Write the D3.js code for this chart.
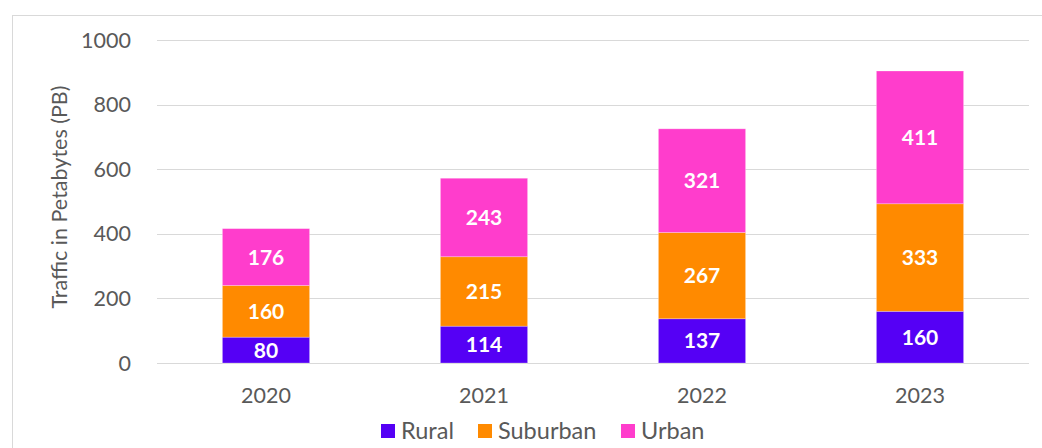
<!DOCTYPE html>
<html>
<head>
<meta charset="utf-8">
<script src="https://cdn.jsdelivr.net/npm/d3@7"></script>
<style>
  body { margin: 0; background: #fff; }
  text { font-family: Lato, "Open Sans", sans-serif; }
</style>
</head>
<body>
<script>
var years = ["2020", "2021", "2022", "2023"];
var rural = [80, 114, 137, 160];
var suburban = [160, 215, 267, 333];
var urban = [176, 243, 321, 411];
var seriesNames = ["Rural", "Suburban", "Urban"];
var colors = ["#5500f5", "#ff8a00", "#ff3dcc"];
var yTicks = [0, 200, 400, 600, 800, 1000];

var width = 1042, height = 448;
var svg = d3.select("body").append("svg")
    .attr("width", width)
    .attr("height", height);

// chart frame
svg.append("rect")
    .attr("x", 12.5).attr("y", 15.5)
    .attr("width", 1100).attr("height", 500)
    .attr("fill", "none").attr("stroke", "#d9d9d9");

var x = d3.scaleBand().domain(years).range([157, 1029]).paddingInner(0.6).paddingOuter(0.3);
var y = d3.scaleLinear().domain([0, 1000]).range([363, 40]);

// gridlines
svg.append("g").selectAll("line")
    .data(yTicks)
    .enter().append("line")
    .attr("x1", 157).attr("x2", 1029)
    .attr("y1", function(d) { return Math.round(y(d)) + 0.5; })
    .attr("y2", function(d) { return Math.round(y(d)) + 0.5; })
    .attr("stroke", "#d9d9d9").attr("stroke-width", 1);

// y tick labels
svg.append("g").selectAll("text")
    .data(yTicks)
    .enter().append("text")
    .attr("x", 131)
    .attr("y", function(d) { return y(d); })
    .attr("dy", "0.35em")
    .attr("text-anchor", "end")
    .attr("fill", "#595959")
    .attr("font-size", 21.5)
    .text(function(d) { return d; });

// x labels
svg.append("g").selectAll("text")
    .data(years)
    .enter().append("text")
    .attr("x", function(d) { return x(d) + x.bandwidth() / 2; })
    .attr("y", 403)
    .attr("text-anchor", "middle")
    .attr("fill", "#595959")
    .attr("font-size", 21.5)
    .text(function(d) { return d; });

// y axis title
svg.append("text")
    .attr("transform", "translate(67,197) rotate(-90)")
    .attr("text-anchor", "middle")
    .attr("fill", "#595959")
    .attr("font-size", 21.5)
    .text("Traffic in Petabytes (PB)");

var table = years.map(function(yr, i) {
    return { year: yr, Rural: rural[i], Suburban: suburban[i], Urban: urban[i] };
});
var stacked = d3.stack().keys(seriesNames)(table);

var layers = svg.append("g").selectAll("g")
    .data(stacked)
    .enter().append("g")
    .attr("fill", function(d, i) { return colors[i]; });

layers.selectAll("rect")
    .data(function(d) { return d; })
    .enter().append("rect")
    .attr("x", function(d) { return x(d.data.year); })
    .attr("width", x.bandwidth())
    .attr("y", function(d) { return y(d[1]); })
    .attr("height", function(d) { return y(d[0]) - y(d[1]); })
    .attr("stroke", "#ffffff").attr("stroke-opacity", 0.35).attr("stroke-width", 0.75);

layers.selectAll("text")
    .data(function(d) { return d; })
    .enter().append("text")
    .attr("x", function(d) { return x(d.data.year) + x.bandwidth() / 2; })
    .attr("y", function(d) { return (y(d[0]) + y(d[1])) / 2; })
    .attr("dy", "0.36em")
    .attr("text-anchor", "middle")
    .attr("fill", "#ffffff")
    .attr("font-weight", "bold")
    .attr("font-size", 21)
    .text(function(d) { return d[1] - d[0]; });

// legend
var legendX = [381, 478, 621];
var legend = svg.append("g").selectAll("g")
    .data(seriesNames)
    .enter().append("g")
    .attr("transform", function(d, i) { return "translate(" + legendX[i] + ",424)"; });

legend.append("rect")
    .attr("width", 14).attr("height", 14)
    .attr("fill", function(d, i) { return colors[i]; });

legend.append("text")
    .attr("x", 20).attr("y", 7)
    .attr("dy", "0.36em")
    .attr("fill", "#595959")
    .attr("font-size", 23.5)
    .text(function(d) { return d; });
</script>
</body>
</html>
